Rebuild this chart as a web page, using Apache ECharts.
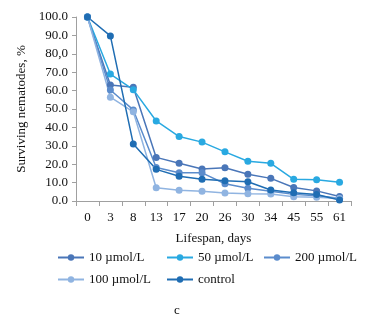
<!DOCTYPE html>
<html>
<head>
<meta charset="utf-8">
<script src="https://cdn.jsdelivr.net/npm/echarts@6/dist/echarts.min.js"></script>
<style>
  html, body { margin: 0; padding: 0; background: #fff; }
  #chart { width: 369px; height: 324px; }
</style>
</head>
<body>
<div id="chart"></div>
<script>
// Survival of nematodes over their lifespan, by treatment concentration
const days = ['0', '3', '8', '13', '17', '20', '26', '30', '34', '45', '55', '61'];
const yTickLabels = ['0.0', '10.0', '20.0', '30.0', '40.0', '50.0', '60.0', '70.0', '80,0', '90.0', '100.0'];

const seriesNames = ['10 µmol/L', '50 µmol/L', '200 µmol/L', '100 µmol/L', 'control'];
const umol10   = [100, 63.0, 61.8, 23.7, 20.5, 17.4, 18.1, 14.5, 12.3, 7.3, 5.5, 2.4];
const umol50   = [100, 69.0, 60.5, 43.5, 35.0, 32.0, 26.7, 21.6, 20.5, 11.8, 11.5, 10.2];
const umol200  = [100, 60.3, 49.5, 18.2, 15.4, 15.3, 9.4, 6.9, 5.3, 3.6, 2.8, 1.5];
const umol100  = [100, 56.4, 48.5, 7.2, 5.8, 5.3, 4.4, 4.0, 3.8, 2.3, 2.1, 1.3];
const controlV = [100, 89.7, 31.0, 17.2, 13.5, 11.8, 11.0, 10.5, 6.0, 4.5, 3.5, 0.5];

const colors = ['#4a76b8', '#29a9e1', '#5b8ccc', '#90b4e1', '#1f6db3'];
const values = [umol10, umol50, umol200, umol100, controlV];

const serif = 'Liberation Serif';
const textColor = '#111111';
const axisGray = '#a0a0a0';

const chart = echarts.init(document.getElementById('chart'), null, { renderer: 'canvas' });

const series = seriesNames.map((name, i) => ({
  name: name,
  type: 'line',
  data: values[i],
  symbol: 'circle',
  symbolSize: 7,
  color: colors[i],
  lineStyle: { width: 1.5, color: colors[i] },
  itemStyle: { color: colors[i] },
  emphasis: { disabled: true },
  animation: false
}));

// one legend block per entry so each sits in its own column
const legendSpots = [
  { left: 57, top: 251 },
  { left: 166, top: 251 },
  { left: 263, top: 251 },
  { left: 57, top: 273 },
  { left: 166, top: 273 }
];
const legends = seriesNames.map((name, i) => ({
  data: [name],
  left: legendSpots[i].left,
  top: legendSpots[i].top,
  padding: 0,
  itemWidth: 26,
  itemHeight: 8,
  itemGap: 0,
  selectedMode: false,
  textStyle: { fontFamily: serif, fontSize: 13, color: textColor }
}));

chart.setOption({
  backgroundColor: '#ffffff',
  animation: false,
  color: colors,
  grid: { left: 76, right: 18, top: 17, bottom: 123, containLabel: false },
  legend: legends,
  xAxis: {
    type: 'category',
    data: days,
    boundaryGap: true,
    name: 'Lifespan, days',
    nameLocation: 'middle',
    nameGap: 31,
    nameTextStyle: { fontFamily: serif, fontSize: 13, color: textColor },
    axisLine: { lineStyle: { color: axisGray, width: 1 } },
    axisTick: { show: true, alignWithLabel: false, length: 5, lineStyle: { color: axisGray } },
    axisLabel: { fontFamily: serif, fontSize: 13, color: textColor, margin: 10, interval: 0 },
    splitLine: { show: false }
  },
  yAxis: {
    type: 'value',
    min: 0,
    max: 100,
    interval: 10,
    name: 'Surviving nematodes, %',
    nameLocation: 'middle',
    nameGap: 48,
    nameRotate: 90,
    nameTextStyle: { fontFamily: serif, fontSize: 13, color: textColor },
    axisLine: { show: true, lineStyle: { color: axisGray, width: 1 } },
    axisTick: { show: true, length: 4, lineStyle: { color: axisGray } },
    axisLabel: {
      fontFamily: serif, fontSize: 13, color: textColor, margin: 8,
      formatter: (v) => yTickLabels[Math.round(v / 10)]
    },
    splitLine: { show: false }
  },
  graphic: [{
    type: 'text',
    left: 174,
    top: 304,
    style: { text: 'c', font: '13px "Liberation Serif"', fill: textColor }
  }],
  series: series
});
</script>
</body>
</html>
